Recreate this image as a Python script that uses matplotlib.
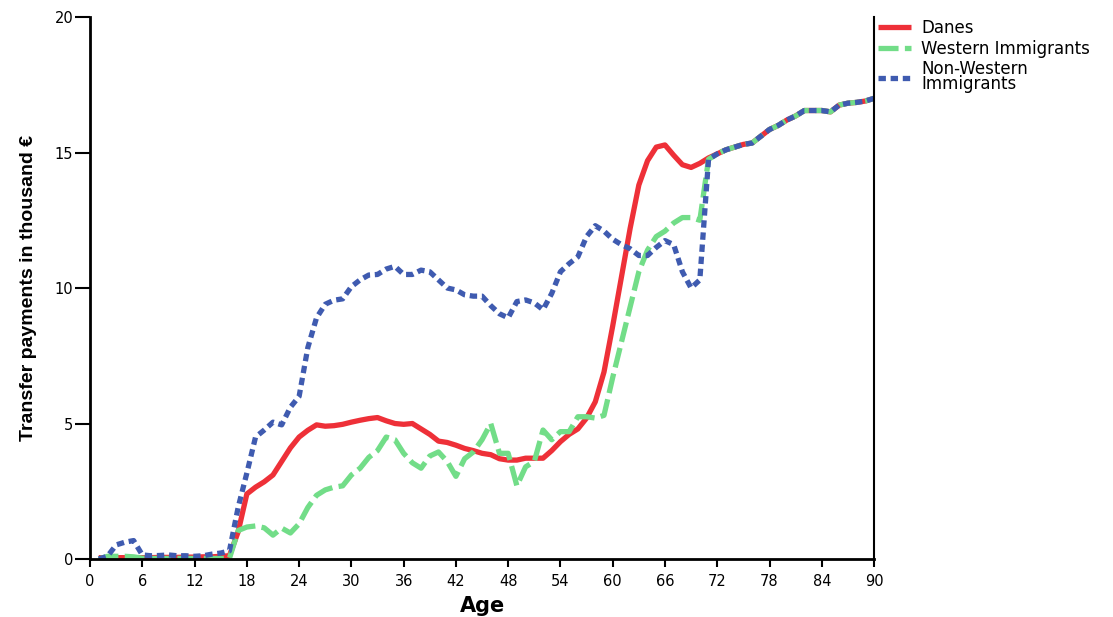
import matplotlib
matplotlib.use("Agg")
import matplotlib.pyplot as plt
import numpy as np

# data (thousand EUR by age)
ages = list(range(1, 91))

danes = [0.05, 0.05, 0.05, 0.05, 0.05, 0.05, 0.05, 0.06, 0.06, 0.06,
         0.07, 0.07, 0.08, 0.08, 0.1, 0.12, 1.0, 2.4, 2.65, 2.85,
         3.1, 3.6, 4.1, 4.5, 4.75, 4.95, 4.9, 4.92, 4.97, 5.05,
         5.12, 5.18, 5.22, 5.1, 5.0, 4.97, 5.0, 4.8, 4.6, 4.35,
         4.3, 4.2, 4.08, 4.0, 3.9, 3.85, 3.7, 3.65, 3.65, 3.72,
         3.72, 3.72, 4.0, 4.33, 4.6, 4.8, 5.2, 5.8, 6.9, 8.6,
         10.4, 12.2, 13.8, 14.7, 15.2, 15.28, 14.9, 14.55, 14.45, 14.6,
         14.8, 14.95, 15.1, 15.2, 15.3, 15.35, 15.6, 15.85, 16.0, 16.2,
         16.35, 16.55, 16.55, 16.55, 16.5, 16.75, 16.82, 16.85, 16.9, 17.0]

western = [0.0, 0.1, 0.1, 0.1, 0.08, 0.03, 0.02, 0.02, 0.02, 0.02,
           0.02, 0.02, 0.02, 0.02, 0.02, 0.02, 1.05, 1.18, 1.22, 1.15,
           0.88, 1.14, 0.96, 1.3, 1.9, 2.35, 2.55, 2.65, 2.7, 3.1,
           3.35, 3.75, 4.0, 4.5, 4.4, 3.9, 3.55, 3.35, 3.8, 3.95,
           3.6, 3.05, 3.7, 3.95, 4.4, 5.0, 3.9, 3.9, 2.7, 3.4,
           3.6, 4.76, 4.4, 4.7, 4.7, 5.25, 5.25, 5.2, 5.3, 6.7,
           8.0, 9.3, 10.6, 11.4, 11.9, 12.1, 12.4, 12.6, 12.6, 12.5,
           14.75, 14.95, 15.1, 15.2, 15.3, 15.35, 15.6, 15.85, 16.0, 16.2,
           16.35, 16.55, 16.55, 16.55, 16.5, 16.75, 16.82, 16.85, 16.9, 17.0]

non_western = [0.0, 0.1, 0.52, 0.62, 0.68, 0.15, 0.12, 0.13, 0.15, 0.12,
               0.12, 0.1, 0.12, 0.18, 0.22, 0.3, 1.9, 3.17, 4.5, 4.76,
               5.05, 4.95, 5.6, 6.0, 7.8, 8.9, 9.4, 9.55, 9.6, 10.05,
               10.3, 10.48, 10.5, 10.7, 10.8, 10.5, 10.5, 10.66, 10.6, 10.3,
               10.0, 9.93, 9.75, 9.7, 9.7, 9.35, 9.05, 8.9, 9.5, 9.56,
               9.45, 9.2, 9.8, 10.6, 10.9, 11.15, 11.9, 12.3, 12.1, 11.8,
               11.6, 11.45, 11.2, 11.2, 11.5, 11.75, 11.6, 10.6, 10.0, 10.3,
               14.75, 14.95, 15.1, 15.2, 15.3, 15.35, 15.6, 15.85, 16.0, 16.2,
               16.35, 16.55, 16.55, 16.55, 16.5, 16.75, 16.82, 16.85, 16.9, 17.0]

xticks = list(range(0, 91, 6))
yticks = [0, 5, 10, 15, 20]

plt.rcParams['font.family'] = ['DejaVu Sans']

fig = plt.figure(figsize=(11.13, 6.17), dpi=100)
ax = fig.add_axes([0.0809, 0.094, 0.7044, 0.8784])

ax.plot(ages, danes, color='#EE3038', lw=3.8, ls='-',
        solid_capstyle='butt', label='Danes')
ax.plot(ages, western, color='#72DD88', lw=3.8, ls=(0, (3.8, 1.2)),
        label='Western Immigrants')
ax.plot(ages, non_western, color='#3F5BB0', lw=3.8, ls=(0, (1.4, 0.9)),
        label='Non-Western\nImmigrants')

ax.set_xlim(0, 90)
ax.set_ylim(0, 20)
ax.set_xticks(xticks)
ax.set_yticks(yticks)
ax.tick_params(axis='x', direction='out', length=6, width=1.5,
               labelsize=10.5, pad=5)
ax.tick_params(axis='y', direction='out', length=11, width=1.5,
               labelsize=10.5, pad=1)
for s in ['left', 'bottom']:
    ax.spines[s].set_linewidth(2)
ax.spines['right'].set_linewidth(1.5)
ax.spines['top'].set_visible(False)

ax.set_xlabel('Age', fontsize=15, fontweight='bold', labelpad=5)
ax.set_ylabel('Transfer payments in thousand €', fontsize=14,
              fontweight='bold',
              family=['Liberation Sans', 'DejaVu Sans'],
              labelpad=13)

leg = fig.legend(loc='upper left', bbox_to_anchor=(878 / 1113, 1 - 19 / 617),
                 frameon=False, fontsize=12, handlelength=2.0,
                 handletextpad=0.6, labelspacing=0.15, borderaxespad=0,
                 borderpad=0)
for t in leg.get_texts():
    t.set_linespacing(0.8)

fig.savefig('out.png', dpi=100)
